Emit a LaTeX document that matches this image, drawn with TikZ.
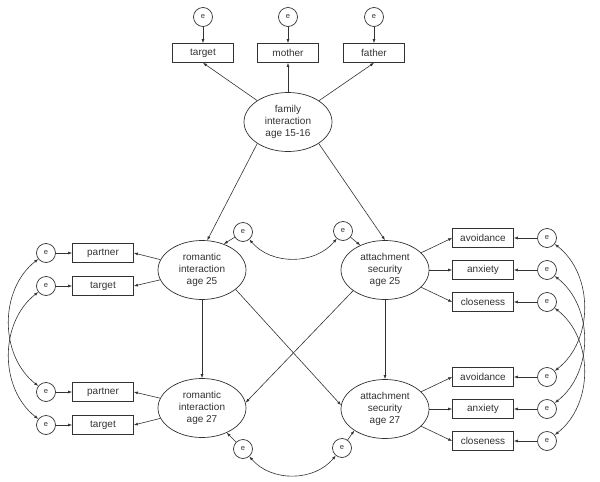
\documentclass[tikz,border=0pt]{standalone}
\usepackage{fontspec}
\setmainfont{Liberation Sans}
\usetikzlibrary{arrows.meta,shapes.geometric}
\definecolor{lc}{RGB}{50,50,50}
\begin{document}
\begin{tikzpicture}[x=1pt,y=-1pt,
 lat/.style={ellipse,draw=lc,line width=0.7pt,minimum width=88pt,minimum height=59pt,inner sep=0pt,align=center,font=\fontsize{10}{12}\selectfont,text=lc},
 obs/.style={rectangle,draw=lc,line width=0.7pt,minimum width=61pt,minimum height=19pt,inner sep=0pt,font=\fontsize{10}{12}\selectfont,text=lc},
 err/.style={circle,draw=lc,line width=0.7pt,minimum size=19pt,inner sep=0pt,font=\fontsize{7.5}{8}\selectfont,text=lc},
 arr/.style={-{Latex[length=4pt,width=3pt]},draw=lc,line width=0.6pt},
 darr/.style={{Latex[length=4pt,width=3pt]}-{Latex[length=4pt,width=3pt]},draw=lc,line width=0.6pt},
]
\useasboundingbox (0,0) rectangle (600,482);

% latent variables
\node[lat] (fam) at (288,122) {family\\interaction\\age 15-16};
\node[lat] (rom25) at (202,270) {romantic\\interaction\\age 25};
\node[lat] (att25) at (385,270) {attachment\\security\\age 25};
\node[lat] (rom27) at (202,408) {romantic\\interaction\\age 27};
\node[lat] (att27) at (385,409) {attachment\\security\\age 27};

% top indicators
\node[obs] (t0) at (203,53) {target};
\node[obs] (m0) at (288,53) {mother};
\node[obs] (f0) at (374,53) {father};
\node[err] (et0) at (203,17) {e};
\node[err] (em0) at (288,17) {e};
\node[err] (ef0) at (374,17) {e};

% left indicators
\node[obs] (p25) at (103,253) {partner};
\node[obs] (t25) at (103,286) {target};
\node[obs] (p27) at (103,392) {partner};
\node[obs] (t27) at (103,425) {target};
\node[err] (ep25) at (46,253) {e};
\node[err] (et25) at (46,286) {e};
\node[err] (ep27) at (46,392) {e};
\node[err] (et27) at (46,425) {e};

% right indicators
\node[obs] (av25) at (483,238) {avoidance};
\node[obs] (an25) at (483,270) {anxiety};
\node[obs] (cl25) at (483,302) {closeness};
\node[obs] (av27) at (483,377) {avoidance};
\node[obs] (an27) at (483,409) {anxiety};
\node[obs] (cl27) at (483,441) {closeness};
\node[err] (eav25) at (547,238) {e};
\node[err] (ean25) at (547,270) {e};
\node[err] (ecl25) at (547,302) {e};
\node[err] (eav27) at (547,377) {e};
\node[err] (ean27) at (547,409) {e};
\node[err] (ecl27) at (547,441) {e};

% latent disturbances
\node[err] (er25) at (243,232) {e};
\node[err] (ea25) at (343,231) {e};
\node[err] (er27) at (243,449) {e};
\node[err] (ea27) at (342,448) {e};

% top
\draw[arr] (et0) -- (t0);
\draw[arr] (em0) -- (m0);
\draw[arr] (ef0) -- (f0);
\draw[arr] (fam) -- (t0.south);
\draw[arr] (fam) -- (m0);
\draw[arr] (fam) -- (f0.south);
\draw[arr] (fam.215) -- (rom25.80);
\draw[arr] (fam.325) -- (att25.north);

% structural paths
\draw[arr] (rom25) -- (rom27);
\draw[arr] (att25.south) -- (att27.north);
\draw[arr] (rom25.330) -- (att27.175);
\draw[arr] (att25.213) -- (rom27.7);

% left measurement
\draw[arr] (rom25) -- (p25.east);
\draw[arr] (rom25) -- (t25.east);
\draw[arr] (rom27) -- (p27.east);
\draw[arr] (rom27) -- (t27.east);
\draw[arr] (ep25) -- (p25);
\draw[arr] (et25) -- (t25);
\draw[arr] (ep27) -- (p27);
\draw[arr] (et27) -- (t27);

% right measurement
\draw[arr] (att25) -- (av25.west);
\draw[arr] (att25) -- (an25.west);
\draw[arr] (att25) -- (cl25.west);
\draw[arr] (att27) -- (av27.west);
\draw[arr] (att27) -- (an27.west);
\draw[arr] (att27) -- (cl27.west);
\draw[arr] (eav25) -- (av25);
\draw[arr] (ean25) -- (an25);
\draw[arr] (ecl25) -- (cl25);
\draw[arr] (eav27) -- (av27);
\draw[arr] (ean27) -- (an27);
\draw[arr] (ecl27) -- (cl27);

% disturbances
\draw[arr] (er25) -- (rom25.50);
\draw[arr] (ea25) -- (att25.135);
\draw[arr] (er27) -- (rom27.315);
\draw[arr] (ea27) -- (att27.215);

% covariances
\draw[darr] (er25) to[bend right=50] (ea25);
\draw[darr] (er27) to[bend right=50] (ea27);
\draw[darr] (ep25) to[bend right=52] (ep27);
\draw[darr] (et25) to[bend right=52] (et27);
\draw[darr] (eav25) to[bend left=52] (eav27);
\draw[darr] (ean25) to[bend left=52] (ean27);
\draw[darr] (ecl25) to[bend left=52] (ecl27);
\end{tikzpicture}
\end{document}
